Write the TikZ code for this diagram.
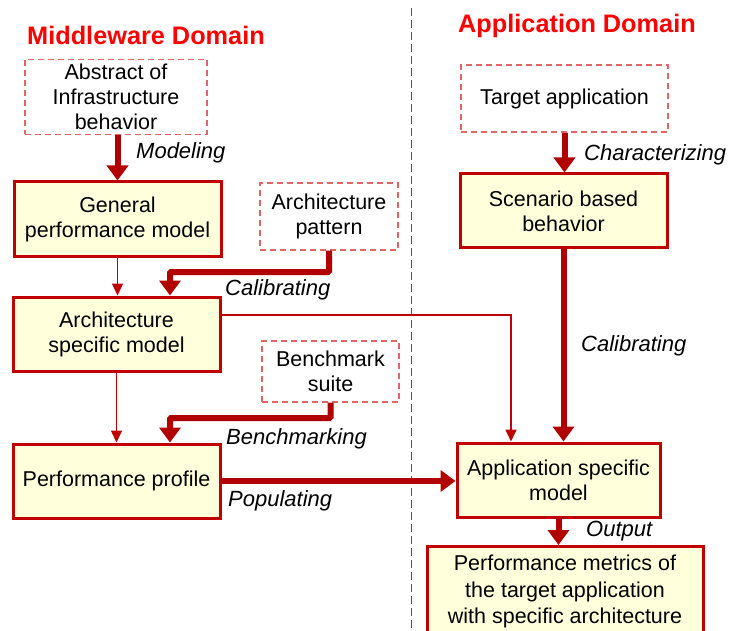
\documentclass[tikz,border=0pt]{standalone}
\usepackage{fontspec}
\setmainfont{Liberation Sans}
\usetikzlibrary{arrows.meta}

\definecolor{boxred}{HTML}{C00000}
\definecolor{arrowred}{HTML}{B00000}
\definecolor{lightred}{HTML}{E06666}
\definecolor{boxfill}{HTML}{FFFFDC}
\definecolor{domainred}{HTML}{FF0000}
\definecolor{divider}{HTML}{555555}

\tikzset{
  modelbox/.style={draw=boxred, line width=3pt, fill=boxfill, inner sep=0pt,
    align=center, font=\fontsize{21.5}{25}\selectfont},
  inputbox/.style={draw=lightred, line width=1.2pt, dash pattern=on 6pt off 4pt,
    inner sep=0pt, align=center, font=\fontsize{21.5}{25}\selectfont},
  mainflow/.style={draw=arrowred, line width=6pt,
    -{Triangle[width=21pt,length=15pt]}},
  sideflow/.style={draw=boxred, line width=1.5pt,
    -{Triangle[width=11pt,length=12pt]}},
  steplabel/.style={font=\fontsize{22}{26}\selectfont\itshape, inner sep=0pt, anchor=base west},
  domainlabel/.style={font=\fontsize{25.3}{30}\selectfont\bfseries, text=domainred,
    inner sep=0pt, anchor=base west}
}

\begin{document}
\begin{tikzpicture}[x=1pt,y=-1pt]
\clip (0,0) rectangle (731,631);
\fill[white] (0,0) rectangle (731,631);

% domain divider
\draw[divider, line width=1pt, dash pattern=on 8pt off 4pt] (411,8) -- (411,631);

% domain headings
\node[domainlabel] (mw) at (27,45) {Middleware Domain};
\node[domainlabel] (ad) at (458,33) {Application Domain};

% middleware side
\node[inputbox, minimum width=182pt, minimum height=75pt] (abs) at (116,97)
  {Abstract of\\Infrastructure\\behavior};
\node[modelbox, minimum width=207pt, minimum height=75pt] (gen) at (117.5,219.5)
  {General\\performance model};
\node[inputbox, minimum width=138pt, minimum height=67pt] (pat) at (329,216.5)
  {Architecture\\pattern};
\node[modelbox, minimum width=207pt, minimum height=74pt] (asm) at (116.5,334)
  {Architecture\\specific model};
\node[inputbox, minimum width=137pt, minimum height=61pt] (bench) at (330.5,371.5)
  {Benchmark\\suite};
\node[modelbox, minimum width=207pt, minimum height=74pt] (prof) at (116.5,481)
  {Performance profile};

% application side
\node[inputbox, minimum width=207pt, minimum height=67pt] (tgt) at (564.5,98.5)
  {Target application};
\node[modelbox, minimum width=207pt, minimum height=74pt] (scen) at (563.5,211)
  {Scenario based\\behavior};
\node[modelbox, minimum width=203pt, minimum height=74pt] (app) at (558.5,480)
  {Application specific\\model};
\node[modelbox, minimum width=276pt, minimum height=110pt, anchor=north] (met) at (565,545) {};
\node[font=\fontsize{21.5}{26.5}\selectfont, align=center, anchor=north, inner sep=0pt] (mettext) at (565,555)
  {Performance metrics of\\the target application\\with specific architecture};

% bend points
\coordinate (calbend) at (170,272);
\coordinate (benchbend) at (170,418);
\coordinate (asmbend) at (511,315);

% connectors
\draw[mainflow] (abs.south -| gen.north) -- (gen.north);
\draw[sideflow] (gen.south) -- (gen.south |- asm.north);
\draw[mainflow, rounded corners=1pt] (pat.south) |- (calbend) -- (calbend |- asm.north);
\draw[sideflow] (asm.east |- asmbend) -- (asmbend) -- (asmbend |- app.north);
\draw[sideflow] (asm.south) -- (prof.north);
\draw[mainflow, rounded corners=1pt] (bench.south) |- (benchbend) -- (benchbend |- prof.north);
\draw[mainflow] (prof.east) -- (prof.east -| app.west);
\draw[mainflow] (tgt.south) -- (tgt.south |- scen.north);
\draw[mainflow] (scen.south) -- (scen.south |- app.north);
\draw[mainflow] (app.south) -- (app.south |- met.north);

% connector labels
\node[steplabel] (lmod) at (136,159) {Modeling};
\node[steplabel] (lcal) at (225,295.5) {Calibrating};
\node[steplabel] (lbench) at (226,444) {Benchmarking};
\node[steplabel] (lpop) at (228,506.5) {Populating};
\node[steplabel] (lchar) at (584,161) {Characterizing};
\node[steplabel] (lcal2) at (581,351.5) {Calibrating};
\node[steplabel] (lout) at (586,536.5) {Output};
\end{tikzpicture}
\end{document}
